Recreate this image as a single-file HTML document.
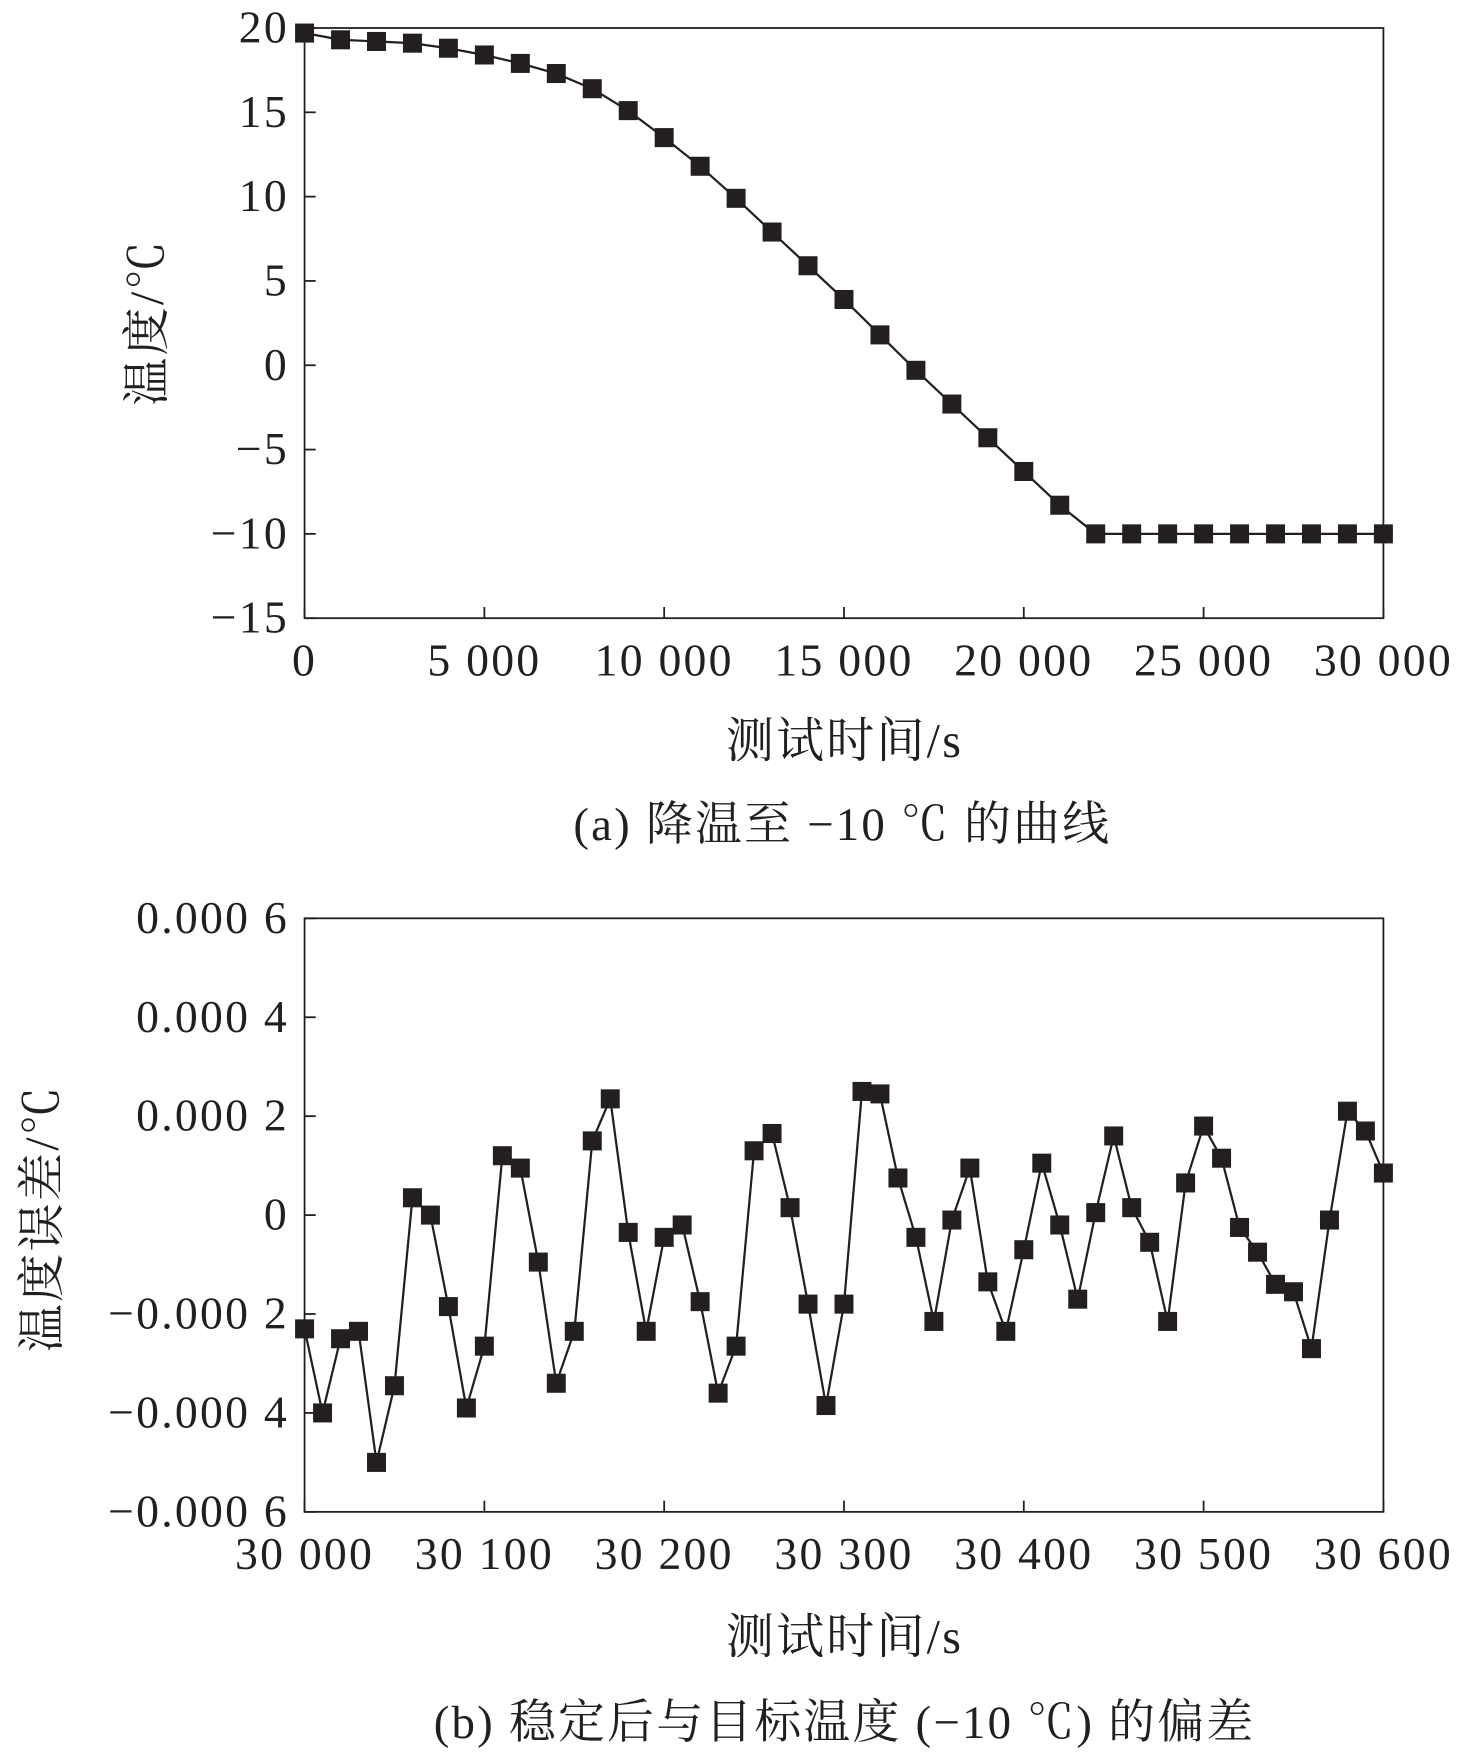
<!DOCTYPE html>
<html><head><meta charset="utf-8">
<style>
html,body{margin:0;padding:0;background:#fff;}
svg{display:block;}
text{font-family:"Liberation Serif","Noto Serif CJK SC",serif;fill:#231f20;}
</style></head>
<body>
<svg id="fig" width="1476" height="1756" viewBox="0 0 1323 1568" preserveAspectRatio="none" xmlns="http://www.w3.org/2000/svg">
<g id="chartA"></g>
<g id="chartB"></g>
<text x="757" y="676" font-size="43" letter-spacing="2" text-anchor="middle">测试时间/s</text>
<text x="755" y="750" font-size="42" letter-spacing="2" text-anchor="middle">(a) 降温至 −10 ℃ 的曲线</text>
<text transform="translate(146,288) rotate(-90)" font-size="43" letter-spacing="2" text-anchor="middle">温度/℃</text>
<text x="757" y="1476" font-size="43" letter-spacing="2" text-anchor="middle">测试时间/s</text>
<text x="757" y="1552" font-size="42" letter-spacing="2" text-anchor="middle">(b) 稳定后与目标温度 (−10 ℃) 的偏差</text>
<text transform="translate(52,1088) rotate(-90)" font-size="43" letter-spacing="2" text-anchor="middle">温度误差/℃</text>
</svg>
<script>
const aTemps = [19.7,19.3,19.2,19.1,18.8,18.4,17.9,17.3,16.4,15.1,13.5,11.8,9.9,7.9,5.9,3.9,1.8,-0.3,-2.3,-4.3,-6.3,-8.3,-10,-10,-10,-10,-10,-10,-10,-10,-10];
const aXTicks = [0,5000,10000,15000,20000,25000,30000];
const aXTickLabels = ["0","5 000","10 000","15 000","20 000","25 000","30 000"];
const aYTicks = [20,15,10,5,0,-5,-10,-15];
const aYTickLabels = ["20","15","10","5","0","−5","−10","−15"];
const bErr = [-2.3,-4.0,-2.5,-2.35,-5.0,-3.45,0.35,0,-1.85,-3.9,-2.65,1.2,0.95,-0.95,-3.4,-2.35,1.5,2.35,-0.35,-2.35,-0.45,-0.2,-1.75,-3.6,-2.65,1.3,1.65,0.15,-1.8,-3.85,-1.8,2.5,2.45,0.75,-0.45,-2.15,-0.1,0.95,-1.35,-2.35,-0.7,1.05,-0.2,-1.7,0.05,1.6,0.15,-0.55,-2.15,0.65,1.8,1.15,-0.25,-0.75,-1.4,-1.55,-2.7,-0.1,2.1,1.7,0.85];
const bXTicks = [30000,30100,30200,30300,30400,30500,30600];
const bXTickLabels = ["30 000","30 100","30 200","30 300","30 400","30 500","30 600"];
const bYTicks = [6,4,2,0,-2,-4,-6];
const bYTickLabels = ["0.000 6","0.000 4","0.000 2","0","−0.000 2","−0.000 4","−0.000 6"];

const NS="http://www.w3.org/2000/svg";
function mk(parent,tag,attrs,txt){const e=document.createElementNS(NS,tag);for(const k in attrs)e.setAttribute(k,attrs[k]);if(txt!==undefined)e.textContent=txt;parent.appendChild(e);return e;}

function drawChart(g,L,R,T,B,xMin,xMax,yMin,yMax,xs,ys,xT,xTL,yT,yTL,xlabY,pfx){
  const sx=v=>L+(v-xMin)/(xMax-xMin)*(R-L);
  const sy=v=>B-(v-yMin)/(yMax-yMin)*(B-T);
  const frame=mk(g,'rect',{x:L,y:T,width:R-L,height:B-T,fill:'none',stroke:'#231f20','stroke-width':1.6});
  
  
  xT.forEach((v,i)=>{
    const t=mk(g,'line',{x1:sx(v),x2:sx(v),y1:B,y2:B-10,stroke:'#231f20','stroke-width':1.6});
    
    
    const l=mk(g,'text',{x:sx(v),y:xlabY,'font-size':41,'letter-spacing':2,'text-anchor':'middle'},xTL[i]);
    
    
  });
  yT.forEach((v,i)=>{
    const t=mk(g,'line',{x1:L,x2:L+10,y1:sy(v),y2:sy(v),stroke:'#231f20','stroke-width':1.6});
    
    
    const l=mk(g,'text',{x:L-14,y:sy(v)+13,'font-size':41,'letter-spacing':2,'text-anchor':'end'},yTL[i]);
    
    
  });
  const pts=xs.map((x,i)=>sx(x).toFixed(1)+','+sy(ys[i]).toFixed(1)).join(' ');
  const line=mk(g,'polyline',{points:pts,fill:'none',stroke:'#231f20','stroke-width':2});
  
  
  xs.forEach((x,i)=>{
    const m=mk(g,'rect',{x:sx(x)-8.5,y:sy(ys[i])-8.5,width:17,height:17,fill:'#231f20'});
    
    
  });
}
const aX=aTemps.map((_,i)=>i*1000);
drawChart(document.getElementById('chartA'),273,1240,25,552,0,30000,-15,20,aX,aTemps,aXTicks,aXTickLabels,aYTicks,aYTickLabels,603,'a-');
const bX=bErr.map((_,i)=>30000+i*10);
drawChart(document.getElementById('chartB'),273,1240,820,1350,30000,30600,-6,6,bX,bErr,bXTicks,bXTickLabels,bYTicks,bYTickLabels,1401,'b-');
</script>
</body></html>
